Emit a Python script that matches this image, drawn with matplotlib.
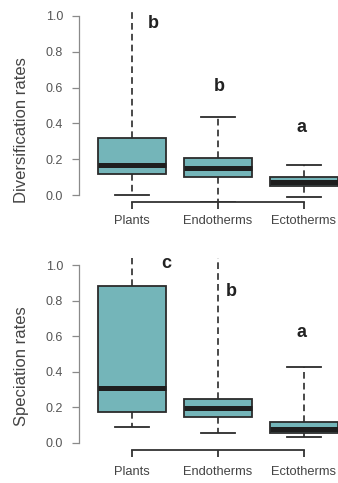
import matplotlib
matplotlib.use("Agg")
import matplotlib.pyplot as plt

plt.rcParams.update({"font.family": ["Liberation Sans", "DejaVu Sans"]})

groups = ["Plants", "Endotherms", "Ectotherms"]

# five-number summaries (values above 1.04 run off the axis)
div_lo = [0.00, -0.04, -0.01]
div_q1 = [0.117, 0.100, 0.053]
div_med = [0.165, 0.152, 0.074]
div_q3 = [0.317, 0.205, 0.102]
div_hi = [1.20, 0.437, 0.168]
div_letters = ["b", "b", "a"]
div_letter_xy = [(1.25, 0.933), (2.02, 0.58), (2.97, 0.35)]

spe_lo = [0.09, 0.053, 0.034]
spe_q1 = [0.175, 0.143, 0.056]
spe_med = [0.306, 0.194, 0.077]
spe_q3 = [0.884, 0.248, 0.118]
spe_hi = [1.20, 1.20, 0.428]
spe_letters = ["c", "b", "a"]
spe_letter_xy = [(1.40, 0.983), (2.16, 0.826), (2.97, 0.595)]

FILL = "#74b5b9"
EDGE = "#2b2b2b"

fig = plt.figure(figsize=(3.38, 4.83), dpi=100)


def panel(rect, lo, q1, med, q3, hi, letters, letter_xy, ylabel, ylab_y, xpad):
    ax = fig.add_axes(rect)
    stats = [dict(whislo=a, q1=b, med=c, q3=d, whishi=e)
             for a, b, c, d, e in zip(lo, q1, med, q3, hi)]
    ax.bxp(stats, positions=[1, 2, 3], widths=0.8, showfliers=False,
           patch_artist=True,
           boxprops=dict(facecolor=FILL, edgecolor=EDGE, linewidth=1.3),
           medianprops=dict(color="#1e1e1e", linewidth=3.6, solid_capstyle="butt"),
           whiskerprops=dict(color=EDGE, linewidth=1.2, linestyle=(0, (4, 2.5))),
           capprops=dict(color=EDGE, linewidth=1.3),
           capwidths=0.4)
    ax.set_xlim(0.5, 3.5)
    ax.set_ylim(-0.04, 1.04)
    for s in ["top", "right"]:
        ax.spines[s].set_visible(False)
    ax.spines["left"].set_position(("outward", 7.2))
    ax.spines["left"].set_bounds(0, 1)
    ax.spines["left"].set_color("#8a8a8a")
    ax.spines["left"].set_linewidth(0.9)
    ax.spines["bottom"].set_bounds(1, 3)
    ax.spines["bottom"].set_color("#333333")
    ax.spines["bottom"].set_linewidth(1.3)
    ax.set_yticks([0, 0.2, 0.4, 0.6, 0.8, 1.0])
    ax.set_yticklabels(["0.0", "0.2", "0.4", "0.6", "0.8", "1.0"])
    ax.tick_params(axis="y", length=5.4, width=0.9, color="#8a8a8a",
                   labelcolor="#555555", labelsize=9, pad=6)
    ax.set_xticks([1, 2, 3])
    ax.set_xticklabels(groups)
    ax.tick_params(axis="x", length=5, width=1.3, color="#333333",
                   labelcolor="#444444", labelsize=9.3, pad=xpad)
    for t, (x, y) in zip(letters, letter_xy):
        ax.text(x, y, t, ha="center", va="baseline", fontsize=13,
                fontweight="bold", color="#222222", clip_on=False)
    fig.text(22 / 338, 1 - ylab_y / 483, ylabel, rotation=90, ha="center",
             va="center", fontsize=12, color="#444444")
    return ax


panel([89 / 338, 1 - 202.2 / 483, 258 / 338, 193.4 / 483],
      div_lo, div_q1, div_med, div_q3, div_hi, div_letters, div_letter_xy,
      "Diversification rates", 130, 4)
panel([89 / 338, 1 - 449.8 / 483, 258 / 338, 191.9 / 483],
      spe_lo, spe_q1, spe_med, spe_q3, spe_hi, spe_letters, spe_letter_xy,
      "Speciation rates", 366, 7)

fig.savefig("out.png", dpi=100)
